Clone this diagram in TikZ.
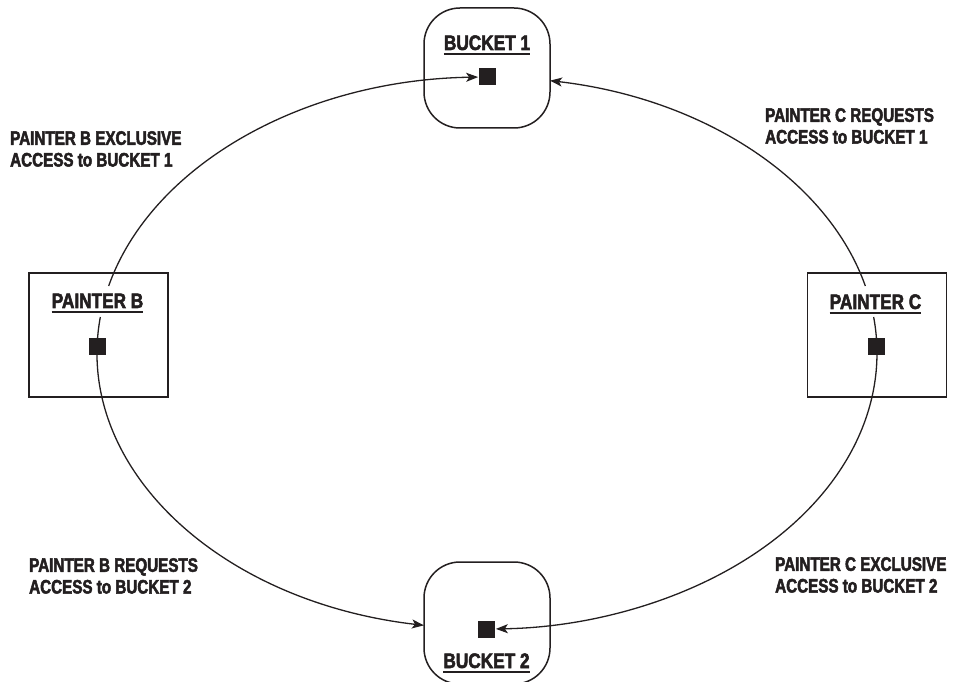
\documentclass[tikz,border=0pt]{standalone}
\usepackage{fontspec}
\newfontfamily\cond[FakeStretch=0.82,FakeBold=2.5]{Liberation Sans Bold}
\newfontfamily\condn[FakeStretch=0.78,FakeBold=2.5]{Liberation Sans Bold}
\usetikzlibrary{arrows.meta}
\definecolor{ink}{HTML}{231F20}
\tikzset{
  x=1pt,y=1pt,
  box/.style={draw=ink,line width=1.5pt,inner sep=0pt},
  bucketbox/.style={box,rounded corners=36pt,minimum width=126pt},
  painterbox/.style={box,minimum width=139pt,minimum height=124pt},
  token/.style={fill=ink,draw=none,minimum size=17pt,inner sep=0pt},
  title/.style={font=\cond\fontsize{21}{25}\selectfont,text=ink,inner sep=0pt,anchor=base},
  note/.style={font=\condn\fontsize{19.5}{21.7}\selectfont,text=ink,inner sep=0pt,anchor=north west,align=left},
  link/.style={draw=ink,line width=1.3pt,-{Stealth[length=12pt,width=9pt,inset=3pt]}},
  uline/.style={draw=ink,line width=1.4pt}
}
\begin{document}
\begin{tikzpicture}
\useasboundingbox (0,0) rectangle (956,681);
% containers
\node[bucketbox,minimum height=120pt] (bucket1) at (487,613) {};
\node[bucketbox,minimum height=122pt] (bucket2) at (487,58) {};
\node[painterbox] (painterB) at (98.5,346) {};
\node[painterbox] (painterC) at (877,346) {};
% titles
\node[title] (t1) at (487,631) {BUCKET 1};
\node[title] (t2) at (486.5,13) {BUCKET 2};
\node[title] (tB) at (97.5,373) {PAINTER B};
\node[title] (tC) at (875.5,372) {PAINTER C};
\foreach \n in {t1,t2,tB,tC}{
  \draw[uline] ([yshift=-4pt]\n.base west) -- ([yshift=-4pt]\n.base east);
}
% ellipse centre and arc start points
\coordinate (ctr) at (487,328);
\path (ctr) ++(165.95:390 and 276) coordinate (bUp);
\path (ctr) ++(14.05:390 and 276) coordinate (cUp);
\path (ctr) ++(172.5:390 and 276) coordinate (bDown);
\path (ctr) ++(7.5:390 and 276) coordinate (cDown);
% connectors
\draw[link] (bUp) arc[start angle=165.95,end angle=91.3,x radius=390,y radius=276];
\draw[link] (cUp) arc[start angle=14.05,end angle=80.7,x radius=390,y radius=276];
\draw[link] (bDown) arc[start angle=172.5,end angle=260.7,x radius=390,y radius=276];
\draw[link] (cDown) arc[start angle=7.5,end angle=-88.7,x radius=390,y radius=276];
% tokens
\node[token] (s1) at (487,604) {};
\node[token] (sB) at (97.5,334) {};
\node[token] (sC) at (876,334) {};
\node[token] (s2) at (486.5,52) {};
% notes
\node[note] (nBx) at (10,550) {PAINTER B EXCLUSIVE\\ACCESS to BUCKET 1};
\node[note] (nCr) at (765,573) {PAINTER C REQUESTS\\ACCESS to BUCKET 1};
\node[note] (nBr) at (29,123) {PAINTER B REQUESTS\\ACCESS to BUCKET 2};
\node[note] (nCx) at (775,124) {PAINTER C EXCLUSIVE\\ACCESS to BUCKET 2};
\end{tikzpicture}
\end{document}
